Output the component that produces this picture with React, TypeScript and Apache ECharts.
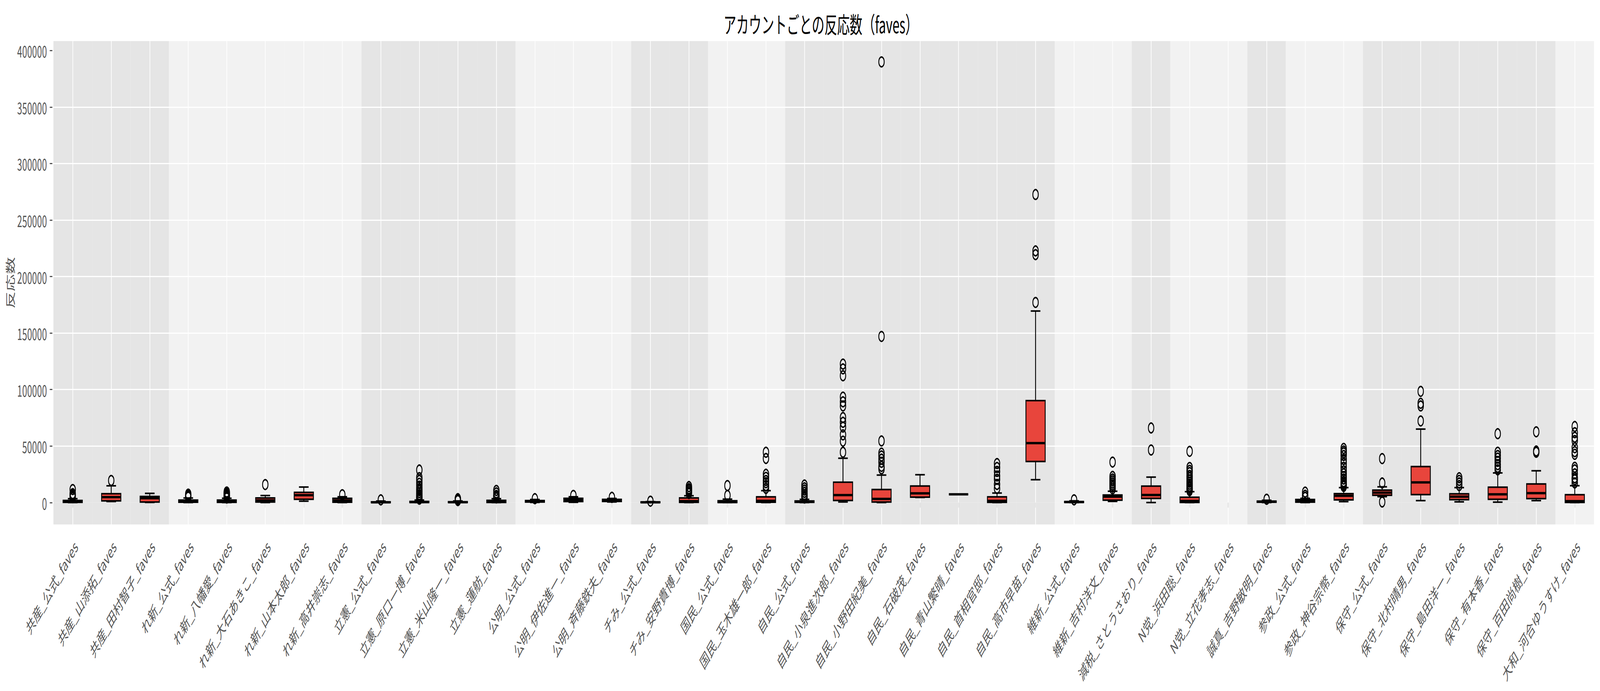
import { useEffect, useRef } from 'react';
import * as echarts from 'echarts';

const FONT = '"Noto Sans CJK JP", "Noto Sans", sans-serif';
const WIDTH = 7349;
const HEIGHT = 1768;

const categories = [
  '共産_公式_faves', '共産_山添拓_faves', '共産_田村智子_faves',
  'れ新_公式_faves', 'れ新_八幡愛_faves', 'れ新_大石あきこ_faves', 'れ新_山本太郎_faves', 'れ新_高井崇志_faves',
  '立憲_公式_faves', '立憲_原口一博_faves', '立憲_米山隆一_faves', '立憲_蓮舫_faves',
  '公明_公式_faves', '公明_伊佐進一_faves', '公明_斉藤鉄夫_faves',
  'チみ_公式_faves', 'チみ_安野貴博_faves',
  '国民_公式_faves', '国民_玉木雄一郎_faves',
  '自民_公式_faves', '自民_小泉進次郎_faves', '自民_小野田紀美_faves', '自民_石破茂_faves',
  '自民_青山繁晴_faves', '自民_首相官邸_faves', '自民_高市早苗_faves',
  '維新_公式_faves', '維新_吉村洋文_faves',
  '減税_さとうさおり_faves',
  'N党_浜田聡_faves', 'N党_立花孝志_faves',
  '誠真_吉野敏明_faves',
  '参政_公式_faves', '参政_神谷宗幣_faves',
  '保守_公式_faves', '保守_北村晴男_faves', '保守_島田洋一_faves', '保守_有本香_faves', '保守_百田尚樹_faves',
  '大和_河合ゆうすけ_faves',
];

// five-number summaries per account (null = no data)
const whiskerLow = [
  0, 900, 100, 0, 0, 0, 1200, 0, 0, 0, 0, 0, 100, 200, 500, 0, 0, 0, 0, 0,
  500, 0, 4500, 7300, 0, 20200, 0, 1000, 0, 0, null, 0, 0, 800, 5200, 1700, 600, 350, 1700, 0,
];
const boxQ1 = [
  200, 1500, 400, 300, 150, 450, 2900, 300, 50, 100, 100, 100, 400, 900, 1000, 50, 200, 100, 300, 200,
  1800, 400, 4800, 7300, 200, 36300, 200, 2100, 3600, 100, null, 300, 350, 2300, 6400, 7000, 2500, 2900, 3500, 100,
];
const boxMedian = [
  700, 4800, 3800, 900, 900, 1900, 6500, 1800, 200, 400, 300, 700, 1000, 2300, 2000, 200, 1200, 400, 1500, 600,
  6600, 3200, 8100, 7300, 1500, 52600, 450, 5200, 6700, 1400, null, 700, 1500, 6000, 8700, 17800, 5200, 7300, 8300, 1200,
];
const boxQ3 = [
  1800, 7800, 5400, 2200, 2200, 4100, 9000, 3700, 600, 1000, 700, 1900, 1700, 3700, 2800, 500, 4100, 1600, 5000, 1400,
  18000, 11500, 14600, 7300, 5000, 90200, 800, 6700, 14500, 4700, null, 1200, 2700, 7900, 11000, 31800, 7700, 13600, 16400, 6900,
];
const whiskerHigh = [
  3400, 14800, 8100, 4000, 3800, 6200, 13700, 5100, 1300, 2200, 1400, 3400, 2700, 5100, 3600, 800, 6000, 3000, 10500, 2800,
  39200, 24300, 24600, 7300, 8400, 169500, 1500, 10000, 22500, 9600, null, 2000, 3700, 13200, 13900, 65000, 13200, 26200, 28100, 14900,
];

const outlierValues: number[][] = [
  [4500, 5600, 6800, 7800, 11500],
  [19500],
  [],
  [4800, 5500, 6200, 7400],
  [4000, 5000, 6000, 7000, 8200, 9300],
  [15900],
  [],
  [6900],
  [2350],
  [3000, 4200, 5500, 7000, 8800, 10500, 12200, 14500, 17000, 19600, 22000, 28800],
  [1800, 2200, 2600, 3000, 3400],
  [4100, 5500, 6300, 8500, 10700],
  [3400],
  [6300],
  [4600],
  [1200],
  [8000, 9500, 11000, 12200, 14100],
  [6300, 15000],
  [12500, 15000, 17500, 19500, 22300, 25000, 39000, 44500],
  [4000, 5500, 7000, 9000, 11000, 13000, 15500],
  [44500, 54300, 59900, 66800, 71000, 75200, 85500, 89100, 93300, 112200, 118300, 122500],
  [29800, 32000, 35600, 38400, 41200, 43700, 54500, 147000, 390000],
  [],
  [],
  [12500, 16000, 20500, 23500, 27500, 31000, 34500],
  [177100, 219400, 222700, 272600],
  [2400],
  [12100, 13900, 15600, 17300, 19100, 20800, 23100, 35800],
  [46500, 66000],
  [10500, 11500, 13000, 14500, 16200, 18000, 20000, 22000, 24000, 26500, 28500, 31000, 45300],
  [],
  [2900],
  [4600, 6400, 9200],
  [14200, 15500, 17000, 18500, 20800, 23000, 25500, 28000, 31200, 34700, 38100, 41600, 44000, 45600, 47900],
  [500, 17300, 38900],
  [72200, 85500, 87800, 98400],
  [15000, 17300, 19600, 21900],
  [28900, 31200, 33500, 36400, 39300, 41600, 44500, 60900],
  [44500, 45600, 62600],
  [17300, 20200, 21900, 25400, 28900, 31200, 42700, 45000, 48500, 54900, 57800, 61800, 67300],
];

const yTicks = [0, 50000, 100000, 150000, 200000, 250000, 300000, 350000, 400000];
const yMin = -19450;
const yMax = 408450;

const BOX_RED = '#e8453c';
const BAND_DARK = '#e5e5e5';
const BAND_LIGHT = '#f2f2f2';

// alternate shading by party prefix
function bandColors(labels: string[]) {
  let group = 0;
  return labels.map((label, i) => {
    if (i > 0 && label.split('_')[0] !== labels[i - 1].split('_')[0]) group += 1;
    return group % 2 === 0 ? BAND_DARK : BAND_LIGHT;
  });
}

export default function App() {
  const chartRef = useRef<HTMLDivElement | null>(null);
  // the window may be narrower than the chart; squeeze it horizontally to fit
  const scaleX = typeof window !== 'undefined' ? Math.min(1, window.innerWidth / WIDTH) : 1;

  useEffect(() => {
    const element = chartRef.current;
    if (!element) return;

    const chart = echarts.init(element, null, { renderer: 'svg', width: WIDTH, height: HEIGHT });
    const shades = bandColors(categories);

    const boxData = categories
      .map((_, i) =>
        whiskerLow[i] == null
          ? null
          : [i, whiskerLow[i], boxQ1[i], boxMedian[i], boxQ3[i], whiskerHigh[i]],
      )
      .filter((d) => d !== null);

    const outlierData = outlierValues.flatMap((vals, i) => vals.map((v) => [i, v]));

    const renderBox = (params: any, api: any) => {
      const idx = api.value(0);
      const band = api.size([1, 0])[0];
      const half = band * 0.25;
      const capHalf = band * 0.125;
      const [cx, yLo] = api.coord([idx, api.value(1)]);
      const yQ1 = api.coord([idx, api.value(2)])[1];
      const yMed = api.coord([idx, api.value(3)])[1];
      const yQ3 = api.coord([idx, api.value(4)])[1];
      const yHi = api.coord([idx, api.value(5)])[1];
      const stroke = { stroke: '#000', lineWidth: 4 };
      return {
        type: 'group',
        children: [
          { type: 'line', shape: { x1: cx, y1: yLo, x2: cx, y2: yQ1 }, style: stroke },
          { type: 'line', shape: { x1: cx, y1: yQ3, x2: cx, y2: yHi }, style: stroke },
          { type: 'line', shape: { x1: cx - capHalf, y1: yLo, x2: cx + capHalf, y2: yLo }, style: stroke },
          { type: 'line', shape: { x1: cx - capHalf, y1: yHi, x2: cx + capHalf, y2: yHi }, style: stroke },
          {
            type: 'rect',
            shape: { x: cx - half, y: yQ3, width: half * 2, height: yQ1 - yQ3 },
            style: { fill: BOX_RED, stroke: '#000', lineWidth: 4 },
          },
          { type: 'line', shape: { x1: cx - half, y1: yMed, x2: cx + half, y2: yMed }, style: { stroke: '#000', lineWidth: 6 } },
        ],
      };
    };

    chart.setOption({
      animation: false,
      backgroundColor: '#fff',
      title: {
        text: 'アカウントごとの反応数（faves）',
        left: 3765,
        top: 26,
        textAlign: 'center',
        textStyle: { fontFamily: FONT, fontSize: 58, fontWeight: 'normal', color: '#000' },
      },
      grid: { left: 245.5, right: 27.5, top: 105, bottom: 426 },
      xAxis: {
        type: 'category',
        data: categories,
        boundaryGap: true,
        offset: 5,
        z: 1,
        axisLine: { show: false },
        axisTick: { show: true, alignWithLabel: true, interval: 0, length: 13, lineStyle: { color: '#555', width: 3 } },
        axisLabel: {
          interval: 0,
          rotate: 45,
          align: 'right',
          verticalAlign: 'top',
          margin: 28,
          fontFamily: FONT,
          fontSize: 42,
          color: '#555',
        },
        splitLine: { show: false },
      },
      yAxis: {
        type: 'value',
        min: yMin,
        max: yMax,
        splitNumber: 8,
        minInterval: 50000,
        maxInterval: 50000,
        offset: 5,
        z: 1,
        name: '反応数',
        nameLocation: 'middle',
        nameRotate: 90,
        nameGap: 164,
        nameTextStyle: { fontFamily: FONT, fontSize: 44, color: '#555' },
        axisLine: { show: false },
        axisTick: { show: true, length: 12, customValues: yTicks, lineStyle: { color: '#555', width: 3 } },
        axisLabel: {
          customValues: yTicks,
          formatter: (v: number) => String(v),
          margin: 25,
          fontFamily: FONT,
          fontSize: 41,
          color: '#555',
        },
        splitLine: { show: true, showMinLine: false, showMaxLine: false, lineStyle: { color: '#fff', width: 3 } },
      },
      series: [
        {
          type: 'bar',
          silent: true,
          z: 0,
          barWidth: '100%',
          barGap: '-100%',
          data: categories.map((_, i) => ({
            value: yMax,
            itemStyle: { color: shades[i], borderColor: shades[i], borderWidth: 1 },
          })),
          markLine: {
            silent: true,
            symbol: ['none', 'none'],
            label: { show: false },
            lineStyle: { color: '#fff', width: 3, type: 'solid' },
            data: categories.map((c) => ({ xAxis: c })),
          },
        },
        {
          type: 'bar',
          silent: true,
          z: 0,
          barWidth: '100%',
          barGap: '-100%',
          data: categories.map((_, i) => ({
            value: yMin,
            itemStyle: { color: shades[i], borderColor: shades[i], borderWidth: 1 },
          })),
        },
        {
          type: 'custom',
          z: 10,
          renderItem: renderBox,
          encode: { x: 0, y: [1, 2, 3, 4, 5] },
          data: boxData,
        },
        {
          type: 'scatter',
          z: 11,
          symbol: 'circle',
          symbolSize: 25,
          itemStyle: { color: 'transparent', borderColor: '#000', borderWidth: 4, opacity: 1 },
          data: outlierData,
        },
      ],
    });

    return () => {
      chart.dispose();
    };
  }, []);

  return (
    <div
      ref={chartRef}
      style={{
        position: 'fixed',
        left: 0,
        top: 0,
        width: WIDTH,
        height: HEIGHT,
        background: '#fff',
        transform: `scale(${scaleX}, 1)`,
        transformOrigin: '0 0',
      }}
    />
  );
}
